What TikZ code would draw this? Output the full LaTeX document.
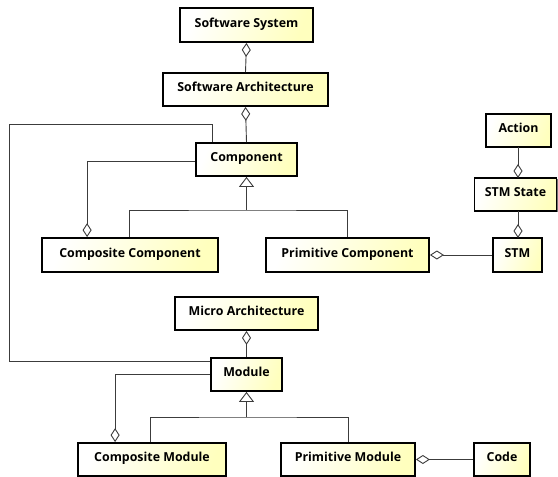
\documentclass[tikz,border=0pt]{standalone}
\usepackage{fontspec}
\setmainfont{Open Sans}
\usetikzlibrary{arrows.meta,shadows}
\definecolor{boxylw}{RGB}{255,255,190}
\definecolor{linegray}{RGB}{60,60,60}
\begin{document}
\begin{tikzpicture}[x=1pt,y=-1pt,
  box/.style={draw=black, line width=1.8pt, left color=white, right color=boxylw, shading angle=70,
    font=\bfseries\fontsize{12.4}{14}\selectfont, inner sep=0pt, text=black,
    text height=9pt, text depth=5pt,
    drop shadow={shadow xshift=1pt, shadow yshift=-1pt, fill=black!55, opacity=1}},
  conn/.style={draw=linegray, line width=0.9pt},
  aggS/.style={conn, {Diamond[open, fill=white, length=14pt, width=9pt, line width=0.9pt]}-},
  aggE/.style={conn, -{Diamond[open, fill=white, length=14pt, width=9pt, line width=0.9pt]}},
  genE/.style={conn, -{Triangle[open, fill=white, length=10pt, width=15pt, line width=0.9pt]}}
]
\useasboundingbox (0,0) rectangle (558,477);
\node[box, minimum width=133pt, minimum height=34pt] (ss) at (246.5,25) {Software System};
\node[box, minimum width=165pt, minimum height=33pt] (sa) at (245.5,89.5) {Software Architecture};
\node[box, minimum width=101pt, minimum height=33pt] (comp) at (246.5,159.5) {Component};
\node[box, minimum width=176pt, minimum height=34pt] (cc) at (130,255) {Composite Component};
\node[box, minimum width=163pt, minimum height=34pt] (pc) at (347.5,255) {Primitive Component};
\node[box, minimum width=49pt, minimum height=34pt] (stm) at (517.5,255) {STM};
\node[box, minimum width=65pt, minimum height=33pt] (action) at (518.5,130.5) {Action};
\node[box, minimum width=82pt, minimum height=33pt] (stms) at (515.5,194.5) {STM State};
\node[box, minimum width=143pt, minimum height=33pt] (ma) at (246.5,313.5) {Micro Architecture};
\node[box, minimum width=71pt, minimum height=33pt] (mod) at (246.5,374.5) {Module};
\node[box, minimum width=148pt, minimum height=33pt] (cm) at (152,459.5) {Composite Module};
\node[box, minimum width=134pt, minimum height=33pt] (pm) at (348,459.5) {Primitive Module};
\node[box, minimum width=56pt, minimum height=33pt] (code) at (502,459.5) {Code};
% aggregations
\draw[aggS] (ss.south) -- (sa.north);
\draw[aggS] (sa.south) -- (comp.north);
\draw[aggS] (ma.south) -- (mod.north);
\draw[aggS] (pc.east) -- (stm.west);
\draw[aggS] (pm.east) -- (code.west);
\coordinate (actb) at (518,147);
\coordinate (stmst) at (518,178);
\coordinate (stmsb) at (518,211);
\coordinate (stmt) at (518,238);
\draw[aggE] (actb) -- (stmst);
\draw[aggE] (stmsb) -- (stmt);
\draw[aggS] ([xshift=46pt]cc.north west) |- ([yshift=-1.5pt]comp.west);
\draw[aggS] ([xshift=38pt]cm.north west) |- (mod.west);
% outer connector component - module
\coordinate (outer) at (9,124);
\draw[conn] ([xshift=17pt]comp.north west) |- (outer) |- ([yshift=-4pt]mod.north west);
% generalizations
\coordinate (j1) at (246.5,210);
\draw[genE] (j1) -- (comp.south);
\draw[conn] ([xshift=88pt]cc.north west) |- (j1) -| (pc.north);
\coordinate (j2) at (246.5,417);
\draw[genE] (j2) -- (mod.south);
\draw[conn] ([xshift=73pt]cm.north west) |- (j2) -| (pm.north);
\end{tikzpicture}
\end{document}
